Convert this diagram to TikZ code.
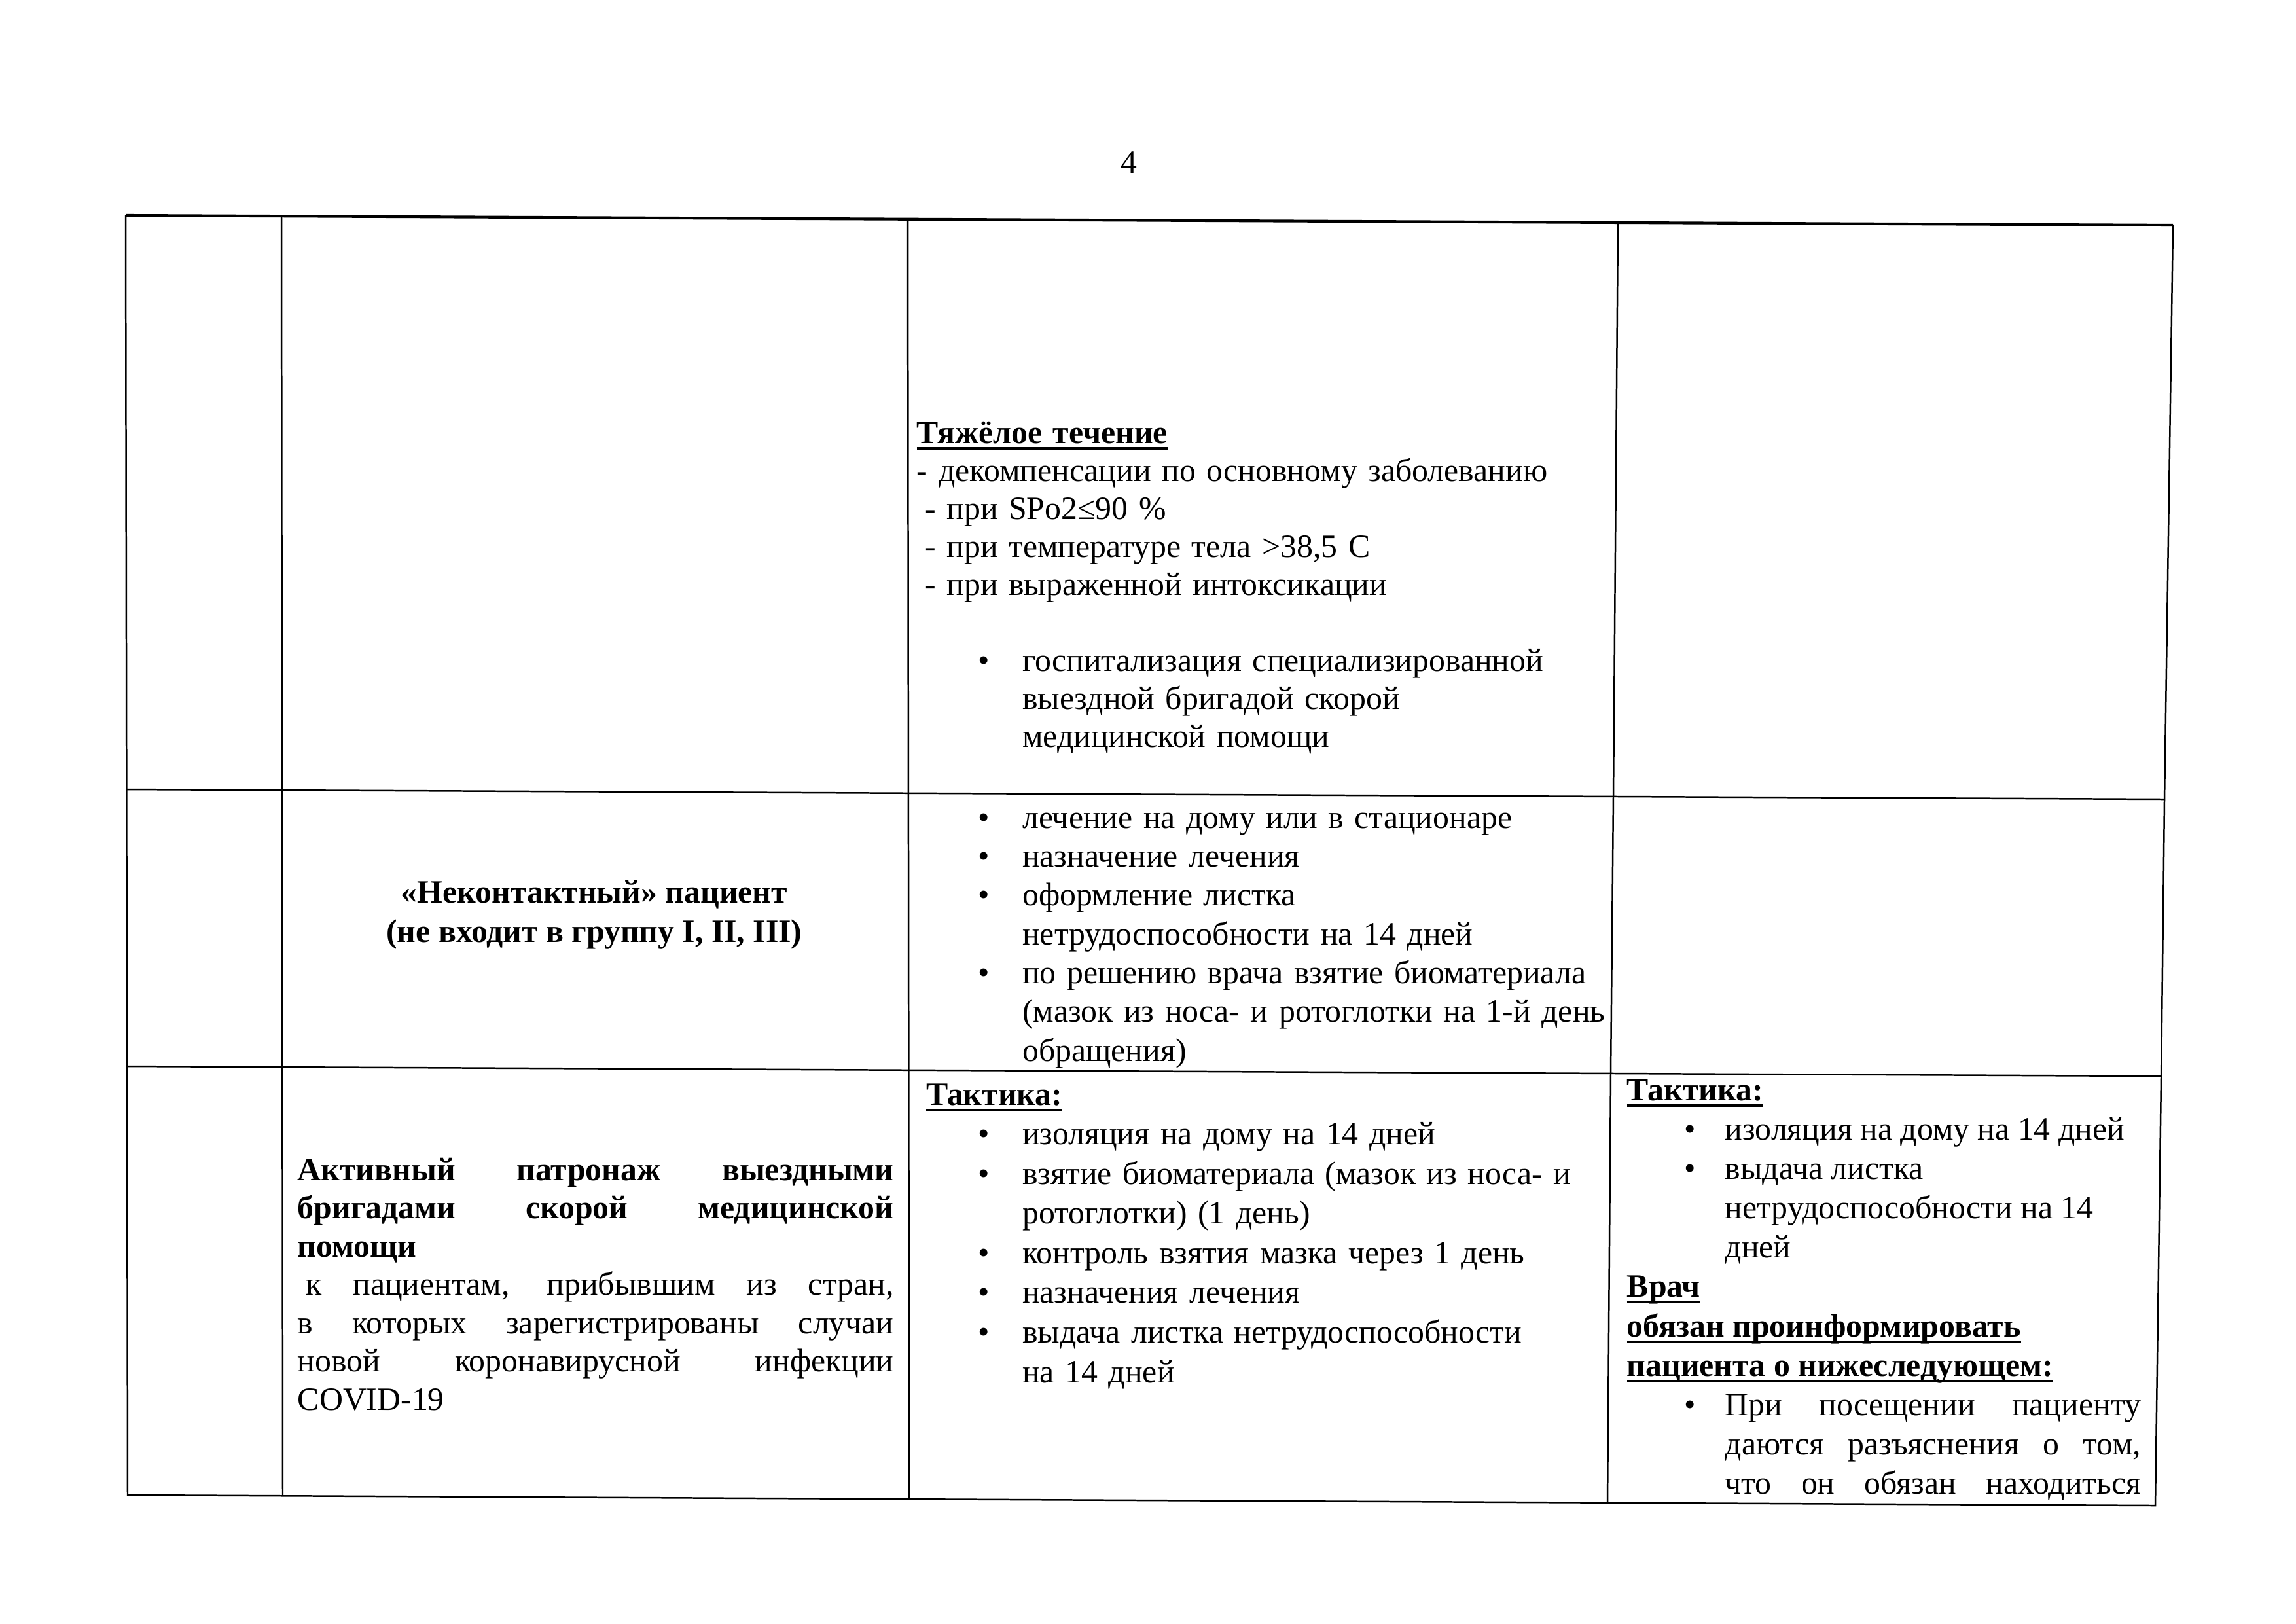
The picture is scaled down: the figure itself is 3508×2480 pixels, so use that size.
\documentclass[tikz,border=0pt]{standalone}
\usepackage{fontspec}
\setmainfont{Liberation Serif}
\newcommand{\cellfont}{\fontsize{12pt}{14.3pt}\selectfont}
\newlength\bulind \setlength\bulind{0.796cm}
\newlength\txtind \setlength\txtind{1.367cm}
\newcommand{\bul}[1]{\noindent\hangindent=\txtind\hspace*{\bulind}\makebox[\dimexpr\txtind-\bulind\relax][l]{•}#1\par}
\newcommand{\ulhead}[1]{\leavevmode\setbox0\hbox{\textbf{#1}}\rlap{\rule[-2.3pt]{\wd0}{0.9pt}}\box0}
\hbadness=10000

\begin{document}
\begin{tikzpicture}[x=0.008466cm,y=-0.008466cm,
  cell/.style={inner sep=0pt,anchor=base west,align=left,font=\cellfont},
  rule/.style={line width=0.6pt}]
\useasboundingbox (0,0) rectangle (3508,2480);
% table corners (scan is slightly skewed)
\coordinate (tl) at (192,329);
\coordinate (tr) at (3320,344);
\coordinate (bl) at (195,2284);
\coordinate (br) at (3293,2300);
\coordinate (r1l) at (193,1206);
\coordinate (r1r) at (3307,1221);
\coordinate (r2l) at (194,1629);
\coordinate (r2r) at (3302,1644);
\coordinate (c1t) at (430,330);
\coordinate (c1b) at (432,2285);
\coordinate (c2t) at (1387,335);
\coordinate (c2b) at (1389,2290);
\coordinate (c3t) at (2472,340);
\coordinate (c3b) at (2456,2295);
\draw[line width=1pt] (tl) -- (tr);
\draw[rule] (tl) -- (bl) -- (br) -- (r2r) -- (r1r) -- (tr);
\draw[rule] (r1l) -- (r1r);
\draw[rule] (r2l) -- (r2r);
\draw[rule] (c1t) -- (c1b);
\draw[rule] (c2t) -- (c2b);
\draw[rule] (c3t) -- (2465,1215) -- (2461,1637) -- (c3b);

\node[font=\cellfont,inner sep=0pt,anchor=base] (pagenum) at (1725,264) {4};

\node[cell,text width=9cm,font={\fontsize{12pt}{14pt}\selectfont}] (severe) at (1400,677) {%
\ulhead{Тяжёлое течение}\par
- декомпенсации по основному заболеванию\par
\hspace*{0.25em}- при SPo2≤90 \%\par
\hspace*{0.25em}- при температуре тела >38,5 С\par
\hspace*{0.25em}- при выраженной интоксикации\par
\vspace{\baselineskip}
\bul{госпитализация специализированной\newline выездной бригадой скорой\newline медицинской помощи}};

\node[cell,anchor=base,align=center,font={\cellfont\bfseries}] (noncontact) at (908,1439) {%
«Неконтактный» пациент\\(не входит в группу I, II, III)};

\node[cell,text width=9cm] (noncontacttx) at (1400,1265) {%
\bul{лечение на дому или в стационаре}
\bul{назначение лечения}
\bul{оформление листка\newline нетрудоспособности на 14 дней}
\bul{по решению врача взятие биоматериала\newline (мазок из носа- и ротоглотки на 1-й день\newline обращения)}};

\node[cell,text width=7.713cm,align=justify,font={\fontsize{12pt}{14.1pt}\selectfont}] (patronage) at (454,1803) {%
{\bfseries Активный патронаж выездными\linebreak бригадами скорой медицинской\linebreak помощи\par}
\hspace*{0.25em}к пациентам, прибывшим из стран,\linebreak в которых зарегистрированы случаи\linebreak новой коронавирусной инфекции\linebreak COVID-19};

\node[cell,text width=9cm,font={\fontsize{12pt}{14.6pt}\selectfont}] (tactics) at (1400,1688) {%
\hspace*{0.12cm}\ulhead{Тактика:}\par
\bul{изоляция на дому на 14 дней}
\bul{взятие биоматериала (мазок из носа- и\newline ротоглотки) (1 день)}
\bul{контроль взятия мазка через 1 день}
\bul{назначения лечения}
\bul{выдача листка нетрудоспособности\newline на 14 дней}};

\node[cell,text width=6.65cm,align=justify,font={\fontsize{12pt}{14.5pt}\selectfont}] (tacticsdoc) at (2485,1681) {%
\setlength\bulind{0.741cm}\setlength\txtind{1.27cm}%
\ulhead{Тактика:}\par
\bul{изоляция на дому на 14 дней}
\bul{выдача листка\newline нетрудоспособности на 14\newline дней}
\ulhead{Врач}\par
\ulhead{обязан проинформировать}\par
\ulhead{пациента о нижеследующем:}\par
{\parfillskip=0pt \bul{При посещении пациенту\linebreak даются разъяснения о том,\linebreak что он обязан находиться}}};
\end{tikzpicture}
\end{document}
